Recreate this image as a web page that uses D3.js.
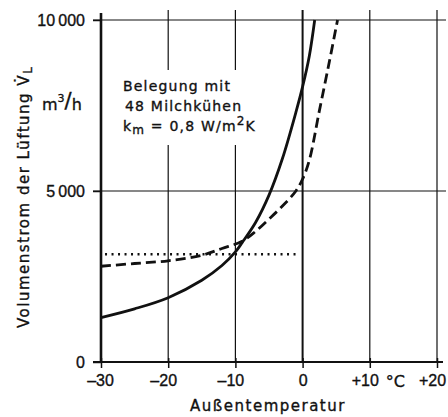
<!DOCTYPE html>
<html lang="de">
<head>
    <meta charset="UTF-8">
    <title>Volumenstrom der Lüftung</title>
    <script src="https://cdnjs.cloudflare.com/ajax/libs/d3/7.8.5/d3.min.js"></script>
    <style>
        body { margin: 0; background: #fff; }
        svg { display: block; font-family: 'DejaVu Sans', sans-serif; }
        svg text { stroke: #111; stroke-width: 0.35; }
        .tick text { font-size: 16px; fill: #111; }
        .tick line { stroke: #111; stroke-width: 1.5; }
    </style>
</head>
<body>
    <div id="chart"></div>
    <script>
        // values
        var tempSolid  = [-30, -25, -20, -15, -12, -10, -9, -7, -5, -3, -1, 0, 1, 1.8];
        var flowSolid  = [1300, 1555, 1880, 2390, 2820, 3220, 3490, 4080, 4880, 5950, 7300, 8050, 8950, 10000];
        var tempDashed = [-30, -25, -20, -15, -12, -9, -7, -5, -3, -1, 0, 1, 2.5, 4, 5.2];
        var flowDashed = [2800, 2880, 2960, 3120, 3320, 3530, 3820, 4180, 4560, 5000, 5350, 5900, 7350, 8800, 10000];
        var tempDotted = [-29.4, -0.5];
        var flowDotted = [3150, 3150];
        var xTicks = [-30, -20, -10, 0, 10, 20];
        var yTicks = [0, 5000, 10000];

        var w = 448,
            h = 417,
            ink = '#111',
            svg = d3.select('#chart')
                    .append('svg')
                    .attr('width', w)
                    .attr('height', h);

        var x = d3.scaleLinear().domain([-30, 20]).range([101, 437]);
        var y = d3.scaleLinear().domain([0, 10000]).range([362, 20]);

        var zip = (xs, ys) => xs.map((t, i) => [t, ys[i]]);

        // annotation first, so the grid can leave a gap round it
        var note = svg.append('g')
                      .attr('font-size', 14)
                      .attr('letter-spacing', 1.2)
                      .attr('fill', ink);
        note.append('text').attr('x', 123).attr('y', 91).text('Belegung mit');
        note.append('text').attr('x', 125).attr('y', 111).text('48 Milchkühen');
        var km = note.append('text').attr('x', 123).attr('y', 131);
        km.append('tspan').text('k');
        km.append('tspan').attr('font-size', 12).attr('dy', 3).text('m');
        km.append('tspan').attr('dy', -3).text(' = 0,8 W/m');
        km.append('tspan').attr('font-size', 12).attr('dy', -6).text('2');
        km.append('tspan').attr('dy', 6).text('K');
        var box = note.node().getBBox();

        // GRID
        var grid = svg.insert('g', ':first-child');
        xTicks.forEach((t) => {
            var top = t === -30 ? y(10000) - 7 : y(10000) - 10;
            var sw = t === -30 ? 2.6 : (t === 0 ? 2 : 1.2);
            var segs = [[top, y(0)]];
            if (x(t) > box.x && x(t) < box.x + box.width) {
                segs = [[top, box.y - 8], [box.y + box.height + 8, y(0)]];
            }
            segs.forEach((s) => {
                grid.append('line')
                    .attr('x1', x(t)).attr('x2', x(t))
                    .attr('y1', s[0]).attr('y2', s[1])
                    .attr('stroke', ink)
                    .attr('stroke-width', sw);
            });
        });
        yTicks.forEach((v) => {
            grid.append('line')
                .attr('x1', x(-30) - 8)
                .attr('x2', v === 0 ? x(20) + 6 : x(20) + 9)
                .attr('y1', y(v)).attr('y2', y(v))
                .attr('stroke', ink)
                .attr('stroke-width', v === 0 ? 2.2 : 1.2);
        });

        // AXES (ticks + labels only)
        var fmtY = (d) => String(d).replace(/\B(?=(\d{3})+(?!\d))/g, '\u2009');
        var fmtX = (d) => d === 0 ? '0' : (d > 0 ? '+' + d : '\u2013' + Math.abs(d));

        var yAxis = svg.append('g')
                       .attr('transform', 'translate(' + x(-30) + ',0)')
                       .call(d3.axisLeft(y).tickValues(yTicks).tickSize(8).tickSizeOuter(0)
                               .tickPadding(8).tickFormat(fmtY));
        yAxis.select('.domain').remove();

        var xAxis = svg.append('g')
                       .attr('transform', 'translate(0,' + y(0) + ')')
                       .call(d3.axisBottom(x).tickValues(xTicks).tickSize(6).tickSizeOuter(0)
                               .tickPadding(7).tickFormat(fmtX));
        xAxis.select('.domain').remove();
        xAxis.selectAll('.tick text').attr('dx', (d) => d === 0 ? 0 : (d === -30 ? -1 : -5));
        xAxis.selectAll('.tick line').attr('y1', -4);

        svg.append('text')
           .attr('x', (x(10) + x(20)) / 2 - 8)
           .attr('y', y(0) + 25)
           .attr('text-anchor', 'middle')
           .attr('font-size', 16)
           .attr('fill', ink)
           .text('°C');

        // AXIS TITLES
        svg.append('text')
           .attr('x', 268)
           .attr('y', 411)
           .attr('text-anchor', 'middle')
           .attr('font-size', 15)
           .attr('letter-spacing', 1.5)
           .attr('fill', ink)
           .text('Außentemperatur');

        var yl = svg.append('text')
                    .attr('transform', 'translate(29,328) rotate(-90)')
                    .attr('font-size', 15)
                    .attr('letter-spacing', 1.5)
                    .attr('fill', ink);
        yl.append('tspan').text('Volumenstrom der Lüftung V\u0307');
        yl.append('tspan').attr('font-size', 12).attr('dy', 3).text('L');

        var unit = svg.append('text')
                      .attr('x', 42).attr('y', 110)
                      .attr('font-size', 16)
                      .attr('fill', ink);
        unit.append('tspan').text('m');
        unit.append('tspan').attr('font-size', 11).attr('dy', -8).text('3');
        unit.append('tspan').attr('font-size', 21).attr('dy', 6).text('/');
        unit.append('tspan').attr('dy', 2).text('h');

        // CURVES
        var line = d3.line()
                     .x((d) => x(d[0]))
                     .y((d) => y(d[1]))
                     .curve(d3.curveCatmullRom.alpha(0.5));

        svg.append('path')
           .datum(zip(tempSolid, flowSolid))
           .attr('d', line)
           .attr('fill', 'none')
           .attr('stroke', ink)
           .attr('stroke-width', 2.8);

        svg.append('path')
           .datum(zip(tempDashed, flowDashed))
           .attr('d', line)
           .attr('fill', 'none')
           .attr('stroke', ink)
           .attr('stroke-width', 2.8)
           .attr('stroke-dasharray', '10,5');

        svg.append('path')
           .datum(zip(tempDotted, flowDotted))
           .attr('d', line)
           .attr('fill', 'none')
           .attr('stroke', ink)
           .attr('stroke-width', 2.4)
           .attr('stroke-dasharray', '2,4.5');
    </script>
</body>
</html>
